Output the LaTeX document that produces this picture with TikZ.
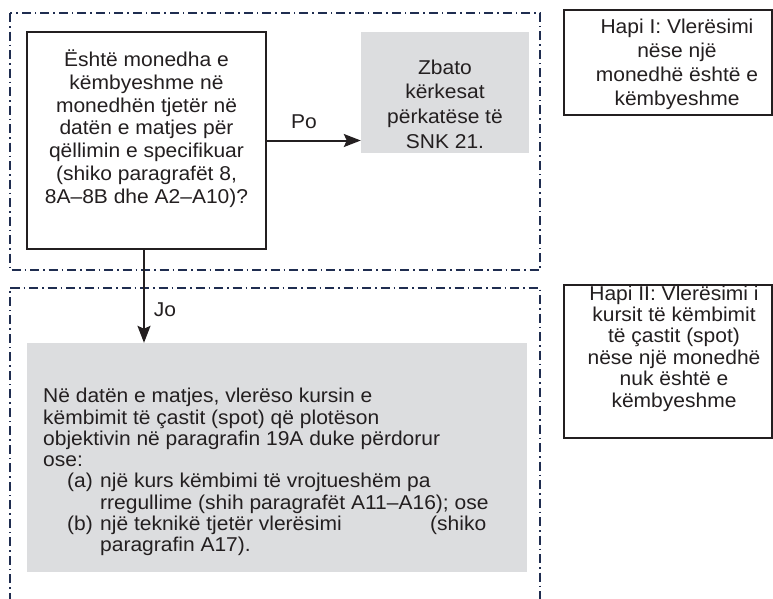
\documentclass[tikz,border=0pt]{standalone}
\usepackage{fontspec}
\setmainfont{Liberation Sans}[FakeStretch=1.05]
\usetikzlibrary{arrows.meta}
\definecolor{frameblue}{RGB}{31,45,80}
\definecolor{boxgray}{RGB}{220,221,223}
\definecolor{txt}{RGB}{35,31,32}
\tikzset{
  frame/.style={draw=frameblue, line width=2pt, dash pattern=on 9pt off 4pt on 1.5pt off 4pt},
  qbox/.style={draw=txt, line width=2.4pt, fill=white, rectangle, inner sep=0pt},
  gbox/.style={fill=boxgray, rectangle, inner sep=0pt},
  hbox/.style={draw=txt, line width=2pt, rectangle, inner sep=0pt},
  lbl/.style={text=txt, inner sep=0pt, align=center},
  arr/.style={draw=txt, line width=2pt, -{Stealth[length=17pt,width=13pt,inset=3pt]}}
}
\begin{document}
\begin{tikzpicture}[x=1pt,y=-1pt, font=\fontsize{20}{22.8}\selectfont]
\useasboundingbox (0,0) rectangle (773,598);
\begin{scope}
\clip (0,0) rectangle (773,598);
\fill[white] (0,0) rectangle (773,598);
% frames
\draw[frame] (9.5,13) rectangle (540,270);
\draw[frame] (9.5,620) -- (9.5,288) -- (540,288) -- (540,620);
\end{scope}
% boxes
\node[qbox, minimum width=239pt, minimum height=217pt] (q) at (146.5,140.5) {};
\node[lbl, font=\fontsize{20}{22.8}\selectfont] (qt) at (146.5,128.5) {Është monedha e\\këmbyeshme në\\monedhën tjetër në\\datën e matjes për\\qëllimin e specifikuar\\(shiko paragrafët 8,\\8A–8B dhe A2–A10)?};
\node[gbox, minimum width=168pt, minimum height=121pt] (z) at (445,92.5) {};
\node[lbl, font=\fontsize{20}{24.7}\selectfont] (zt) at (445,104) {Zbato\\kërkesat\\përkatëse të\\SNK 21.};
\node[hbox, minimum width=208pt, minimum height=105pt] (h1) at (668,62.5) {};
\node[lbl, font=\fontsize{20}{24}\selectfont] (h1t) at (677,64) {Hapi I: Vlerësimi\\nëse një\\monedhë është e\\këmbyeshme};
\node[hbox, minimum width=208pt, minimum height=153pt] (h2) at (668,361.5) {};
\node[lbl, font=\fontsize{20}{21.4}\selectfont] (h2t) at (674,348.5) {Hapi II: Vlerësimi i\\kursit të këmbimit\\të çastit (spot)\\nëse një monedhë\\nuk është e\\këmbyeshme};
\node[gbox, minimum width=500pt, minimum height=229pt] (b) at (277,457.5) {};
\node[lbl, align=left, anchor=west, font=\fontsize{20}{21.25}\selectfont] (bt) at (43,472) {Në datën e matjes, vlerëso kursin e\\këmbimit të çastit (spot) që plotëson\\objektivin në paragrafin 19A duke përdorur\\ose:\\\makebox[57pt][l]{\hspace*{24pt}(a)}një kurs këmbimi të vrojtueshëm pa\\\hspace*{57pt}rregullime (shih paragrafët A11–A16); ose\\\makebox[57pt][l]{\hspace*{24pt}(b)}\makebox[330pt][l]{një teknikë tjetër vlerësimi}(shiko\\\hspace*{57pt}paragrafin A17).};
% connectors
\draw[arr] (q.east) -- (q.east -| z.west);
\draw[arr] (144,0 |- q.south) -- (144,0 |- b.north);
\node[lbl] (po) at (304,122) {Po};
\node[lbl] (jo) at (165,310) {Jo};
\end{tikzpicture}
\end{document}
